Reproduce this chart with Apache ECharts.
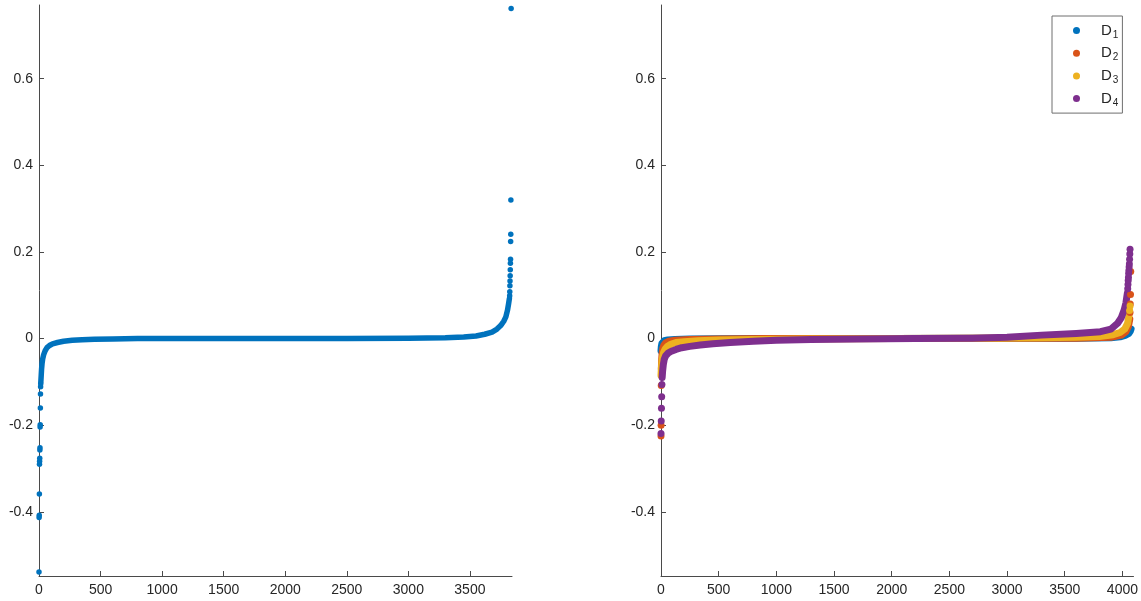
<!DOCTYPE html>
<html>
<head>
<meta charset="utf-8">
<script src="https://cdn.jsdelivr.net/npm/echarts@6/dist/echarts.min.js"></script>
<style>
html,body{margin:0;padding:0;background:#fff;}
#c{width:1141px;height:601px;}
</style>
</head>
<body>
<div id="c"></div>
<script>
// ---------- tick labels ----------
const yTicks = [-0.4, -0.2, 0, 0.2, 0.4, 0.6];
const leftXTicks = [0, 500, 1000, 1500, 2000, 2500, 3000, 3500];
const rightXTicks = [0, 500, 1000, 1500, 2000, 2500, 3000, 3500, 4000];
const seriesNames = ['D1', 'D2', 'D3', 'D4'];

// ---------- left panel (single sorted series) ----------
const leftLowX = [0, 1, 2, 3, 4, 5, 6, 7, 8, 9, 10, 11, 12, 13, 14];
const leftLowY = [-0.539, -0.413, -0.408, -0.359, -0.290, -0.283, -0.276, -0.257, -0.252, -0.204, -0.199, -0.160, -0.128, -0.111, -0.104];
const leftBodyX = [15, 18, 21, 25, 30, 38, 50, 65, 85, 110, 150, 200, 270, 350, 450, 600, 800, 1500, 2500, 3000, 3300, 3450, 3550, 3620, 3680, 3720, 3750, 3775, 3792, 3805, 3814, 3821];
const leftBodyY = [-0.1, -0.085, -0.07, -0.057, -0.047, -0.037, -0.028, -0.021, -0.016, -0.012, -0.009, -0.006, -0.004, -0.0025, -0.0015, -0.0008, 0, 0, 0.0004, 0.001, 0.002, 0.0035, 0.006, 0.01, 0.015, 0.022, 0.03, 0.04, 0.05, 0.065, 0.08, 0.093];
const leftHighX = [3823, 3824, 3825, 3826, 3827, 3828, 3829, 3830, 3831, 3832, 3833, 3835];
const leftHighY = [0.099, 0.108, 0.122, 0.133, 0.145, 0.159, 0.174, 0.183, 0.224, 0.241, 0.320, 0.762];

// ---------- right panel: D1 ----------
const d1BodyX = [0, 3, 8, 15, 30, 60, 120, 250, 500, 1000, 2000, 3000, 3600, 3900, 3980, 4030, 4055, 4068, 4075];
const d1BodyY = [-0.028, -0.018, -0.011, -0.007, -0.005, -0.003, -0.002, -0.001, -0.0005, 0, 0, 0.0005, 0.001, 0.002, 0.004, 0.008, 0.012, 0.017, 0.022];
const d1TailX = [];
const d1TailY = [];

// ---------- right panel: D2 ----------
const d2BodyX = [3, 6, 10, 16, 25, 40, 70, 120, 250, 500, 900, 2000, 3000, 3600, 3900, 3990, 4030, 4052, 4064];
const d2BodyY = [-0.07, -0.048, -0.033, -0.022, -0.015, -0.01, -0.006, -0.004, -0.002, -0.001, 0, 0, 0.0005, 0.001, 0.003, 0.008, 0.016, 0.028, 0.045];
const d2TailX = [0, 1, 2, 4066, 4068, 4070, 4072];
const d2TailY = [-0.225, -0.2, -0.108, 0.06, 0.08, 0.102, 0.155];

// ---------- right panel: D3 ----------
const d3BodyX = [0, 4, 9, 15, 24, 36, 55, 85, 130, 200, 320, 500, 800, 1200, 2000, 2800, 3300, 3600, 3800, 3920, 3980, 4020, 4045, 4058];
const d3BodyY = [-0.085, -0.065, -0.05, -0.04, -0.031, -0.024, -0.018, -0.013, -0.009, -0.007, -0.005, -0.003, -0.002, -0.001, 0, 0.001, 0.002, 0.003, 0.005, 0.009, 0.014, 0.022, 0.035, 0.055];
const d3TailX = [4062, 4066];
const d3TailY = [0.065, 0.075];

// ---------- right panel: D4 ----------
const d4BodyX = [10, 14, 20, 28, 40, 60, 90, 130, 180, 250, 340, 450, 600, 800, 1000, 1300, 1700, 2200, 2700, 3000, 3300, 3600, 3810, 3900, 3957, 3990, 4015, 4030, 4043];
const d4BodyY = [-0.09, -0.075, -0.06, -0.048, -0.04, -0.034, -0.029, -0.025, -0.021, -0.018, -0.015, -0.012, -0.009, -0.006, -0.004, -0.002, -0.001, 0, 0.001, 0.003, 0.008, 0.012, 0.016, 0.022, 0.035, 0.048, 0.066, 0.082, 0.105];
const d4TailX = [0, 2, 4, 6, 8, 4046, 4048, 4050, 4052, 4054, 4056, 4058, 4060, 4062, 4064, 4066];
const d4TailY = [-0.219, -0.19, -0.161, -0.134, -0.106, 0.115, 0.125, 0.134, 0.141, 0.15, 0.157, 0.165, 0.172, 0.183, 0.195, 0.206];

const colors = ['#0072BD', '#D95319', '#EDB120', '#7E2F8E'];

function zip(xs, ys) { return xs.map((x, i) => [x, ys[i]]); }

const axisColor = '#4a4a4a';
const labelColor = '#262626';
const fontFamily = '"Liberation Sans", Arial, Helvetica, sans-serif';

function makeX(idx, max, ticks) {
  return {
    type: 'value', gridIndex: idx, min: 0, max: max,
    axisLine: { show: true, onZero: false, lineStyle: { color: axisColor, width: 1 } },
    axisTick: { show: true, inside: true, length: 5, customValues: ticks, lineStyle: { color: axisColor } },
    axisLabel: { show: true, customValues: ticks, margin: 7, color: labelColor, fontSize: 14, fontFamily: fontFamily,
      formatter: v => String(Math.round(v)) },
    splitLine: { show: false }
  };
}
function makeY(idx) {
  return {
    type: 'value', gridIndex: idx, min: -0.548, max: 0.77,
    axisLine: { show: true, onZero: false, lineStyle: { color: axisColor, width: 1 } },
    axisTick: { show: true, inside: true, length: 5, customValues: yTicks, lineStyle: { color: axisColor } },
    axisLabel: { show: true, customValues: yTicks, margin: 6, color: labelColor, fontSize: 14, fontFamily: fontFamily,
      formatter: v => String(Math.round(v * 10) / 10) },
    splitLine: { show: false }
  };
}

function bodySeries(name, xs, ys, color, axis, w) {
  return {
    name: name, type: 'line', xAxisIndex: axis, yAxisIndex: axis,
    data: zip(xs, ys), symbol: 'none', showSymbol: false, clip: false,
    lineStyle: { color: color, width: w, cap: 'round', join: 'round' },
    itemStyle: { color: color }, z: 2, silent: true
  };
}
function tailSeries(name, xs, ys, color, axis, s) {
  return {
    name: name, type: 'scatter', xAxisIndex: axis, yAxisIndex: axis,
    data: zip(xs, ys), symbol: 'circle', symbolSize: s, clip: false,
    itemStyle: { color: color, opacity: 1 }, z: 2, silent: true
  };
}

const series = [
  bodySeries('left', leftBodyX, leftBodyY, colors[0], 0, 5.5),
  tailSeries('left', leftLowX, leftLowY, colors[0], 0, 5.5),
  tailSeries('left', leftHighX, leftHighY, colors[0], 0, 5.5)
];
const rb = [[d1BodyX, d1BodyY, d1TailX, d1TailY], [d2BodyX, d2BodyY, d2TailX, d2TailY],
            [d3BodyX, d3BodyY, d3TailX, d3TailY], [d4BodyX, d4BodyY, d4TailX, d4TailY]];
rb.forEach((d, i) => {
  series.push(tailSeries(seriesNames[i], d[2], d[3], colors[i], 1, 7));
  series.push(bodySeries(seriesNames[i], d[0], d[1], colors[i], 1, 7));
});

const chart = echarts.init(document.getElementById('c'), null, { renderer: 'canvas' });
chart.setOption({
  animation: false,
  backgroundColor: '#ffffff',
  grid: [
    { left: 39, top: 5, width: 473, height: 571, containLabel: false },
    { left: 661, top: 5, width: 475, height: 571, containLabel: false }
  ],
  xAxis: [makeX(0, 3842, leftXTicks), makeX(1, 4096, rightXTicks)],
  yAxis: [makeY(0), makeY(1)],
  legend: {
    data: seriesNames.map(n => ({ name: n, icon: 'circle' })),
    orient: 'vertical', left: 1052, top: 16,
    itemWidth: 7, itemHeight: 7, itemGap: 3.7,
    padding: [5, 4, 5, 21],
    borderColor: '#6e6e6e', borderWidth: 1, backgroundColor: '#ffffff',
    selectedMode: false,
    formatter: n => '{m|D}{s|' + n.slice(1) + '}',
    textStyle: {
      fontFamily: fontFamily, color: labelColor,
      rich: {
        m: { fontSize: 15, lineHeight: 16, padding: [0, 0, 0, 16], fontFamily: fontFamily, color: labelColor },
        s: { fontSize: 10, lineHeight: 16, padding: [9, 0, 0, 1], fontFamily: fontFamily, color: labelColor }
      }
    }
  },
  series: series
});
</script>
</body>
</html>
